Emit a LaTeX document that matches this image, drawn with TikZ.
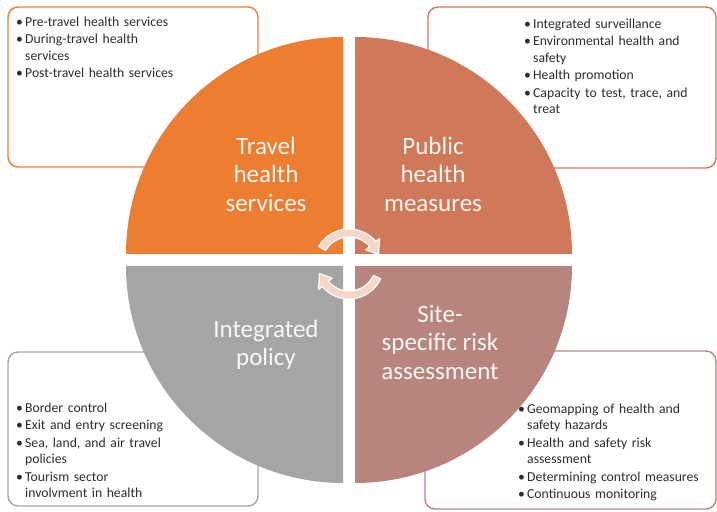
\documentclass[tikz,border=0pt]{standalone}
\usepackage{fontspec}
\setmainfont{Carlito}
\definecolor{cOrange}{RGB}{237,125,49}
\definecolor{cTerra}{RGB}{207,121,90}
\definecolor{cGray}{RGB}{165,165,165}
\definecolor{cRose}{RGB}{183,133,125}
\definecolor{cText}{RGB}{45,45,45}
\definecolor{cLabel}{RGB}{250,246,242}
\definecolor{cArrow}{RGB}{246,214,200}
\newcommand{\bitem}[1]{\hangindent=9pt\hangafter=1\noindent\makebox[9pt][l]{\textbullet}#1\par}
\begin{document}
\begin{tikzpicture}[x=1pt,y=1pt,
  box/.style={draw, line width=1.4pt, rounded corners=10pt, fill=white, inner sep=0pt},
  boxtext/.style={anchor=base west, inner sep=0pt, text width=200pt, align=left,
    font=\fontsize{13.7}{16.5}\selectfont, text=cText},
  qlabel/.style={align=center, inner sep=0pt, text=cLabel,
    font=\fontsize{25}{28.5}\selectfont},
  cyc/.style={fill=cArrow, draw=white, line width=1.2pt, line join=round}]
\useasboundingbox (0,0) rectangle (717,511);
% corner boxes
\node[box, draw=cOrange, minimum width=250pt, minimum height=160pt] (tlbox) at (133,424) {};
\node[box, draw=cTerra, minimum width=288pt, minimum height=161pt] (trbox) at (572,423.5) {};
\node[box, draw=cGray, minimum width=250pt, minimum height=154pt] (blbox) at (133,82) {};
\node[box, draw=cRose, minimum width=291pt, minimum height=158pt] (brbox) at (570.5,81) {};
% quadrants
\fill[cOrange] (343,257) -- (126,257) arc[start angle=180,end angle=90,radius=217pt] -- cycle;
\fill[cTerra] (355,257) -- (355,474) arc[start angle=90,end angle=0,radius=217pt] -- cycle;
\fill[cGray] (343,245) -- (126,245) arc[start angle=180,end angle=270,radius=217pt] -- cycle;
\fill[cRose] (355,245) -- (572,245) arc[start angle=0,end angle=-90,radius=217pt] -- cycle;
% box texts
\node[boxtext] (tltext) at (16,484.5) {\setlength{\parskip}{1pt}%
  \bitem{Pre-travel health services}
  \bitem{During-travel health\newline services}
  \bitem{Post-travel health services}};
\node[boxtext] (trtext) at (524,482.5) {\setlength{\parskip}{1pt}%
  \bitem{Integrated surveillance}
  \bitem{Environmental health and\newline safety}
  \bitem{Health promotion}
  \bitem{Capacity to test, trace, and\newline treat}};
\node[boxtext] (bltext) at (16,98.5) {\setlength{\parskip}{1pt}%
  \bitem{Border control}
  \bitem{Exit and entry screening}
  \bitem{Sea, land, and air travel\newline policies}
  \bitem{Tourism sector\newline involvment in health}};
\node[boxtext] (brtext) at (518,97.5) {\setlength{\parskip}{1pt}%
  \bitem{Geomapping of health and\newline safety hazards}
  \bitem{Health and safety risk\newline assessment}
  \bitem{Determining control measures}
  \bitem{Continuous monitoring}};
% labels
\node[qlabel] (tl) at (266,337) {Travel\\health\\services};
\node[qlabel] (tr) at (433,337) {Public\\health\\measures};
\node[qlabel] (bl) at (266,166) {Integrated\\policy};
\node[qlabel] (br) at (440,169) {Site-\\specific risk\\assessment};
% cycle arrows
\coordinate (c) at (349,247);
\path[cyc, shift={(c)}] (150:35) arc[start angle=150,end angle=40,radius=35pt]
  -- (40:40) -- (18:31) -- (40:22) -- (40:27)
  arc[start angle=40,end angle=150,radius=27pt] -- cycle;
\path[cyc, shift={(c)}] (-25:35) arc[start angle=-25,end angle=-140,radius=35pt]
  -- (-140:40) -- (-162:31) -- (-140:22) -- (-140:27)
  arc[start angle=-140,end angle=-25,radius=27pt] -- cycle;
\end{tikzpicture}
\end{document}
